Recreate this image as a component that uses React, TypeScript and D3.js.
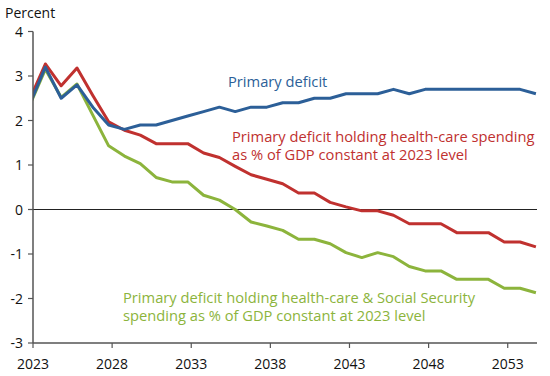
import React from "react";
import * as d3 from "d3";

const fiscalYears = [2023, 2024, 2025, 2026, 2027, 2028, 2029, 2030, 2031, 2032, 2033, 2034, 2035, 2036, 2037, 2038, 2039, 2040, 2041, 2042, 2043, 2044, 2045, 2046, 2047, 2048, 2049, 2050, 2051, 2052, 2053, 2054, 2055];

const primaryDeficit = [2.35, 3.2, 2.5, 2.8, 2.3, 1.9, 1.8, 1.9, 1.9, 2.0, 2.1, 2.2, 2.3, 2.2, 2.3, 2.3, 2.4, 2.4, 2.5, 2.5, 2.6, 2.6, 2.6, 2.7, 2.6, 2.7, 2.7, 2.7, 2.7, 2.7, 2.7, 2.7, 2.6];

const holdingHealth = [2.46, 3.27, 2.78, 3.18, 2.56, 1.97, 1.78, 1.67, 1.48, 1.48, 1.48, 1.27, 1.17, 0.97, 0.78, 0.68, 0.58, 0.37, 0.37, 0.16, 0.06, -0.03, -0.03, -0.13, -0.32, -0.32, -0.32, -0.52, -0.52, -0.52, -0.73, -0.73, -0.84];

const holdingHealthSS = [2.33, 3.15, 2.52, 2.82, 2.12, 1.43, 1.2, 1.03, 0.72, 0.62, 0.62, 0.32, 0.21, 0.0, -0.28, -0.37, -0.47, -0.67, -0.67, -0.77, -0.97, -1.08, -0.97, -1.06, -1.28, -1.38, -1.38, -1.57, -1.57, -1.57, -1.77, -1.77, -1.87];

const xTicks = [2023, 2028, 2033, 2038, 2043, 2048, 2053];
const yTicks = [-3, -2, -1, 0, 1, 2, 3, 4];

const BLUE = "#2c5f98";
const RED = "#c0312f";
const GREEN = "#8cb43c";
const FONT = "'Open Sans', Lato, sans-serif";

export default function App() {
  const x = d3.scaleLinear().domain([2023, 2054.85]).range([33, 537]);
  const y = d3.scaleLinear().domain([-3, 4]).range([343, 31.5]);
  // fiscal-year points sit at the start of the fiscal year (Oct 1 of prior year)
  const line = d3
    .line<number>()
    .x((_, i) => x(fiscalYears[i] - 0.22))
    .y((d) => y(d));

  const series = [
    { values: holdingHealthSS, color: GREEN },
    { values: holdingHealth, color: RED },
    { values: primaryDeficit, color: BLUE },
  ];

  const [x0, x1] = x.range();
  const axisColor = "#555";
  const lab = 14.7;

  return (
    <svg width={550} height={376} style={{ position: "absolute", left: 0, top: 0, background: "#fff" }} fontFamily={FONT}>
      <defs>
        <clipPath id="plot">
          <rect x={x0} y={0} width={x1 - x0} height={376} />
        </clipPath>
      </defs>
      <text x={5} y={18} fontSize={14} fill="#111">Percent</text>
      {yTicks.map((t) => (
        <g key={t}>
          <line x1={x0 - 5} x2={x0} y1={y(t)} y2={y(t)} stroke={axisColor} strokeWidth={1.2} />
          <text x={x0 - 10} y={y(t) + 5} fontSize={14} textAnchor="end" fill="#111">{t}</text>
        </g>
      ))}
      {xTicks.map((t) => (
        <g key={t}>
          <line x1={x(t)} x2={x(t)} y1={y(-3)} y2={y(-3) + 5} stroke={axisColor} strokeWidth={1.2} />
          <text x={x(t)} y={369} fontSize={14} textAnchor="middle" fill="#111">{t}</text>
        </g>
      ))}
      <line x1={x0} x2={x1} y1={y(0)} y2={y(0)} stroke="#222" strokeWidth={1} />
      <g clipPath="url(#plot)">
        {series.map((s, i) => (
          <path key={i} d={line(s.values) || ""} fill="none" stroke={s.color} strokeWidth={3} strokeLinejoin="round" />
        ))}
      </g>
      <line x1={x0} x2={x0} y1={y(4)} y2={y(-3)} stroke={axisColor} strokeWidth={1.5} />
      <line x1={x0} x2={x1} y1={y(-3)} y2={y(-3)} stroke={axisColor} strokeWidth={1.5} />
      <text x={228} y={87} fontSize={lab} fill={BLUE}>Primary deficit</text>
      <text x={232} y={142} fontSize={lab} fill={RED}>Primary deficit holding health-care spending</text>
      <text x={232} y={159.5} fontSize={lab} fill={RED}>as % of GDP constant at 2023 level</text>
      <text x={123} y={303} fontSize={lab} fill={GREEN}>Primary deficit holding health-care &amp; Social Security</text>
      <text x={123} y={320.5} fontSize={lab} fill={GREEN}>spending as % of GDP constant at 2023 level</text>
    </svg>
  );
}
